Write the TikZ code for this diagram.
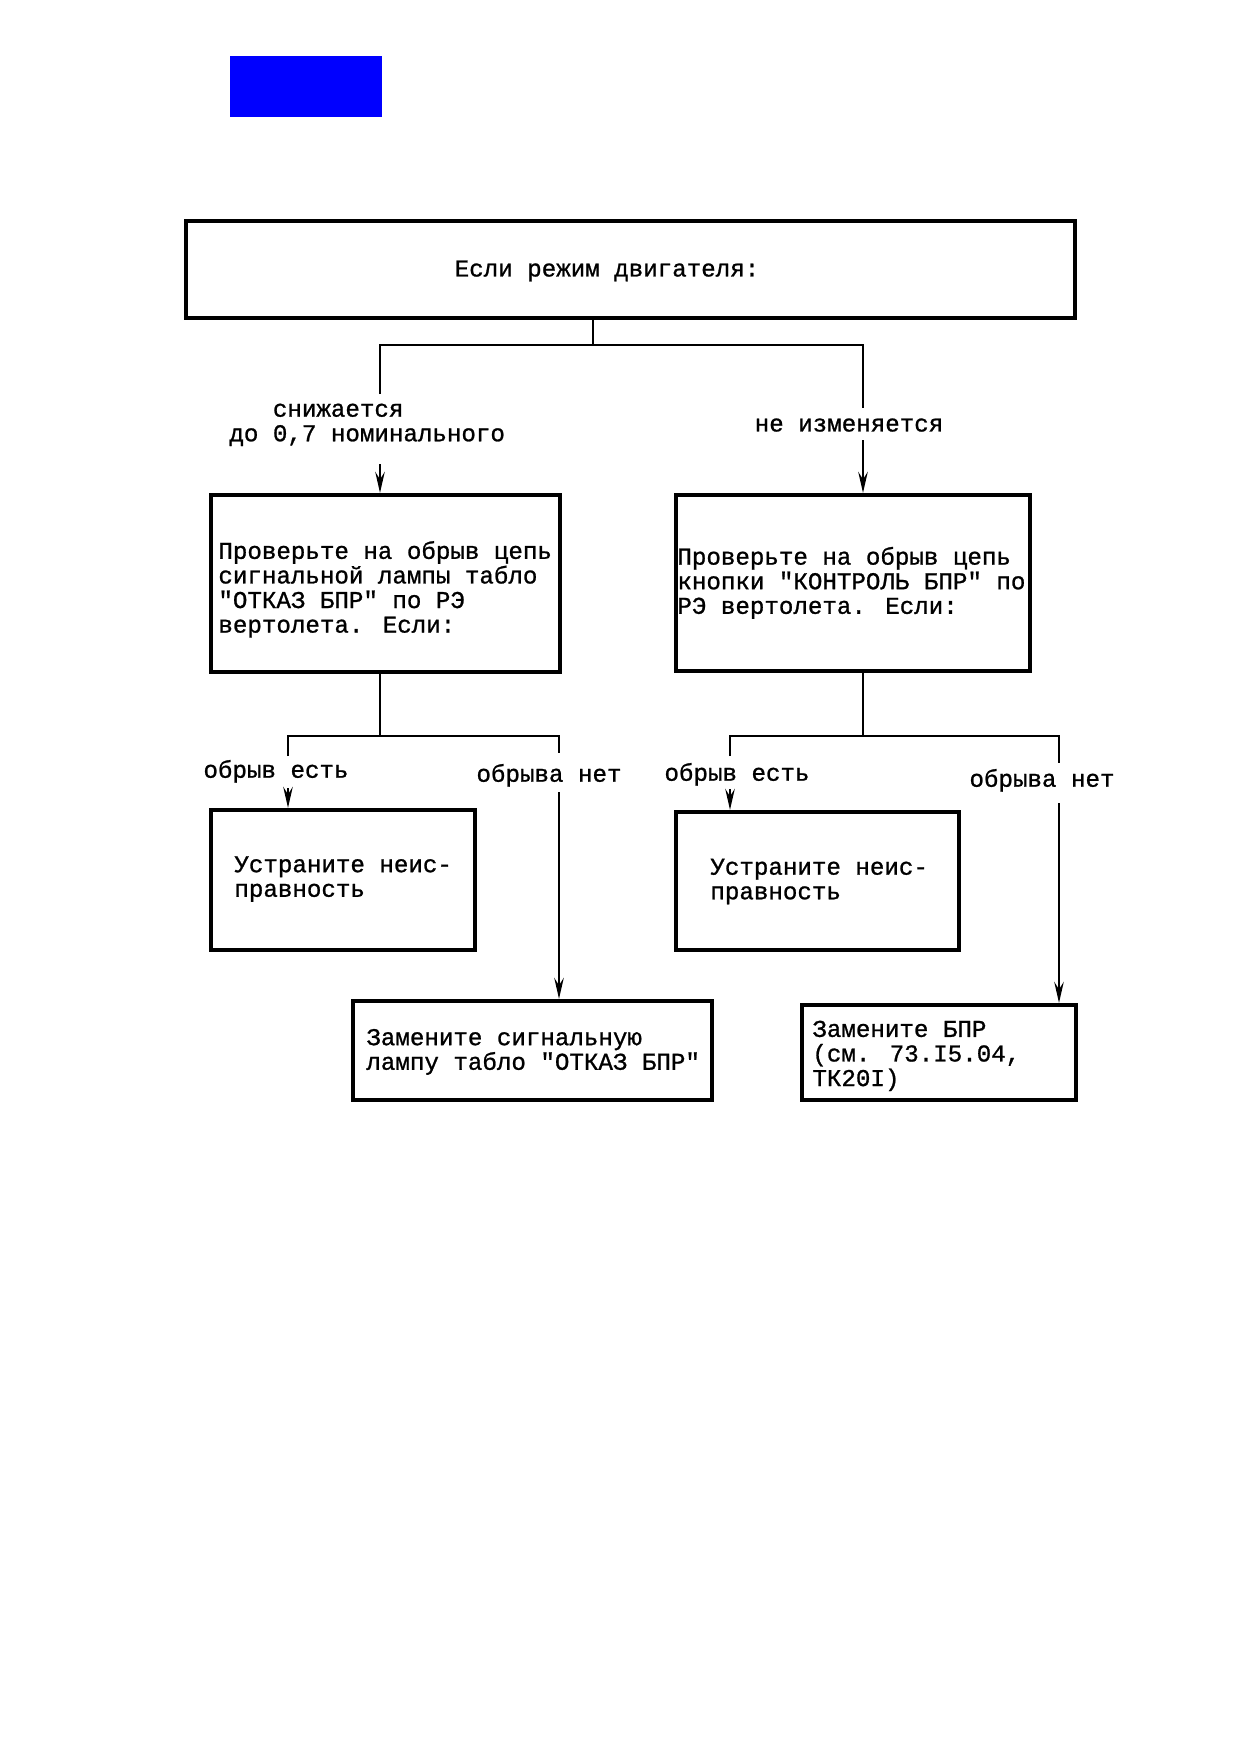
\documentclass[tikz,border=0pt]{standalone}
\usepackage{fontspec}
\usetikzlibrary{arrows.meta}
\newfontfamily\tw[FakeBold=1]{Liberation Mono}
\newcommand\twfont{\tw\fontsize{11.6}{11.8}\selectfont\lineskiplimit-20pt\relax}
\begin{document}
\begin{tikzpicture}[x=0.48pt,y=-0.48pt,
  box/.style={draw,line width=2pt,inner sep=0pt,anchor=center},
  txt/.style={inner sep=0pt,align=left,yshift=-1.7pt,font=\twfont},
  conn/.style={line width=1.4pt},
  arr/.style={-{Stealth[length=10pt,width=4.5pt,inset=3.5pt]}}]
\useasboundingbox (0,0) rectangle (1239,1754);
% blue marker
\fill[fill={rgb,255:red,0;green,0;blue,255}] (230,56) rectangle (382,117);
% boxes
\node[box,minimum width=889*0.48pt,minimum height=97*0.48pt] (top) at (630.5,269.5) {};
\node[box,minimum width=349*0.48pt,minimum height=177*0.48pt] (b2L) at (385.5,583.5) {};
\node[box,minimum width=354*0.48pt,minimum height=176*0.48pt] (b2R) at (853,583) {};
\node[box,minimum width=264*0.48pt,minimum height=140*0.48pt] (b3La) at (343,880) {};
\node[box,minimum width=359*0.48pt,minimum height=99*0.48pt] (b3Lb) at (532.5,1050.5) {};
\node[box,minimum width=283*0.48pt,minimum height=138*0.48pt] (b3Ra) at (817.5,881) {};
\node[box,minimum width=274*0.48pt,minimum height=95*0.48pt] (b3Rb) at (939,1052.5) {};
% texts in boxes
\node[txt,anchor=center] (tTop) at (607,268) {\strut Если режим двигателя:};
\node[txt,anchor=west] (t2L) at (218,587) {\strut Проверьте на обрыв цепь\\\strut сигнальной лампы табло\\\strut "ОТКАЗ БПР" по РЭ\\\strut вертолета. Если:};
\node[txt,anchor=west] (t2R) at (677,580.5) {\strut Проверьте на обрыв цепь\\\strut кнопки "КОНТРОЛЬ БПР" по\\\strut РЭ вертолета. Если:};
\node[txt,anchor=west] (t3La) at (234,876) {\strut Устраните неис-\\\strut правность};
\node[txt,anchor=west] (t3Ra) at (710,878.5) {\strut Устраните неис-\\\strut правность};
\node[txt,anchor=west] (t3Lb) at (366,1049) {\strut Замените сигнальную\\\strut лампу табло "ОТКАЗ БПР"};
\node[txt,anchor=west] (t3Rb) at (812,1053) {\strut Замените БПР\\\strut (см. 73.I5.04,\\\strut ТК20I)};
% labels
\node[txt,anchor=west] (lab1) at (229,420.5) {\strut\hspace*{1.8em}снижается\\\strut до 0,7 номинального};
\node[txt,anchor=center] (lab2) at (849,423) {\strut не изменяется};
\node[txt,anchor=center] (lab3) at (276,769) {\strut обрыв есть};
\node[txt,anchor=center] (lab4) at (549,773) {\strut обрыва нет};
\node[txt,anchor=center] (lab5) at (737,772) {\strut обрыв есть};
\node[txt,anchor=center] (lab6) at (1042,778) {\strut обрыва нет};
% connector coordinates
\coordinate (s1) at (593,345);
\coordinate (l1t) at (380,394); \coordinate (l1b) at (380,464);
\coordinate (r1t) at (863,408); \coordinate (r1b) at (863,440);
\coordinate (s2) at (380,736);
\coordinate (l2at) at (288,756); \coordinate (l2ab) at (288,788);
\coordinate (l2bt) at (559,753); \coordinate (l2bb) at (559,792);
\coordinate (s3) at (863,736);
\coordinate (r2at) at (730,756); \coordinate (r2ab) at (730,789);
\coordinate (r2bt) at (1059,763); \coordinate (r2bb) at (1059,803);
% level 1
\draw[conn] (top.south -| s1) -- (s1);
\draw[conn] (l1t) |- (s1) -| (r1t);
\draw[conn,arr] (l1b) -- (b2L.north -| l1b);
\draw[conn,arr] (r1b) -- (b2R.north -| r1b);
% level 2 left
\draw[conn] (b2L.south -| s2) -- (s2);
\draw[conn] (l2at) |- (s2) -| (l2bt);
\draw[conn,arr] (l2ab) -- (b3La.north -| l2ab);
\draw[conn,arr] (l2bb) -- (b3Lb.north -| l2bb);
% level 2 right
\draw[conn] (b2R.south -| s3) -- (s3);
\draw[conn] (r2at) |- (s3) -| (r2bt);
\draw[conn,arr] (r2ab) -- (b3Ra.north -| r2ab);
\draw[conn,arr] (r2bb) -- (b3Rb.north -| r2bb);
\end{tikzpicture}
\end{document}
